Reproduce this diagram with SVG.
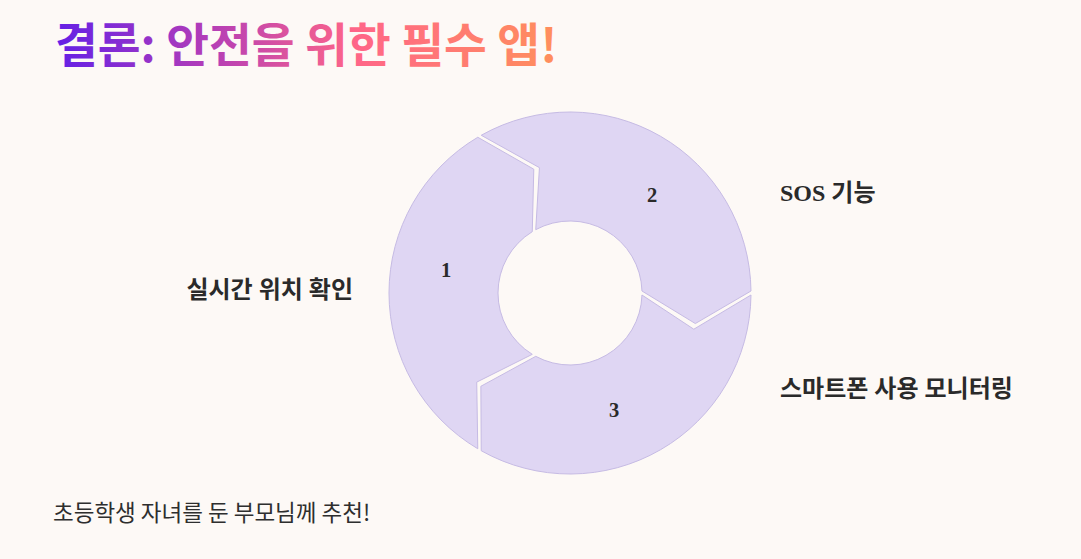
<svg xmlns="http://www.w3.org/2000/svg" width="1081" height="559" viewBox="0 0 1081 559">
  <defs>
    <linearGradient id="tg" x1="55" y1="0" x2="557" y2="0" gradientUnits="userSpaceOnUse">
      <stop offset="0" stop-color="#6420e6"/>
      <stop offset="0.3" stop-color="#b23db8"/>
      <stop offset="0.6" stop-color="#ff6688"/>
      <stop offset="1" stop-color="#ff8f5c"/>
    </linearGradient>
    <style>
      .seg { fill: #dfd6f3; stroke: #c6bbe4; stroke-width: 1; }
      .num { font-family: "Liberation Serif", "DejaVu Serif", serif; font-weight: bold; font-size: 20.5px; fill: #2a2a2a; text-anchor: middle; }
      .lbl { font-family: "Liberation Serif", "Noto Sans CJK KR", sans-serif; font-weight: bold; font-size: 24px; fill: #2a2a2a; }
      .title { font-family: "Noto Sans CJK KR", sans-serif; font-weight: bold; font-size: 46.5px; fill: url(#tg); }
      .foot { font-family: "Noto Sans CJK KR", sans-serif; font-size: 22.5px; fill: #2e2e2e; }
    </style>
  </defs>
  <rect width="1081" height="559" fill="#fdf9f6"/>
  <text class="title" x="55" y="62">결론: 안전을 위한 필수 앱!</text>

  <g id="segment-1">
    <path class="seg" d="M477.78,448.75 A181,181 0 0 1 477.78,137.26 L533.79,169.19 L532.28,231.67 A72,72 0 0 0 532.28,354.33 L476.73,382.13 Z"/>
    <text class="num" x="446" y="277">1</text>
  </g>
  <g id="segment-2">
    <path class="seg" d="M481.23,135.26 A181,181 0 0 1 750.99,291.01 L695.33,323.55 L641.97,291.0 A72,72 0 0 0 535.74,229.67 L539.45,167.67 Z"/>
    <text class="num" x="652" y="202">2</text>
  </g>
  <g id="segment-3">
    <path class="seg" d="M750.99,294.99 A181,181 0 0 1 481.23,450.74 L480.87,386.27 L535.74,356.33 A72,72 0 0 0 641.97,295.0 L693.81,329.21 Z"/>
    <text class="num" x="614" y="417">3</text>
  </g>

  <g id="label-1">
    <text class="lbl" x="353" y="298" text-anchor="end">실시간 위치 확인</text>
  </g>
  <g id="label-2">
    <text class="lbl" x="780" y="201">SOS 기능</text>
  </g>
  <g id="label-3">
    <text class="lbl" x="780" y="397">스마트폰 사용 모니터링</text>
  </g>
  <g id="connectors"/>

  <text class="foot" x="53" y="521">초등학생 자녀를 둔 부모님께 추천!</text>
</svg>
